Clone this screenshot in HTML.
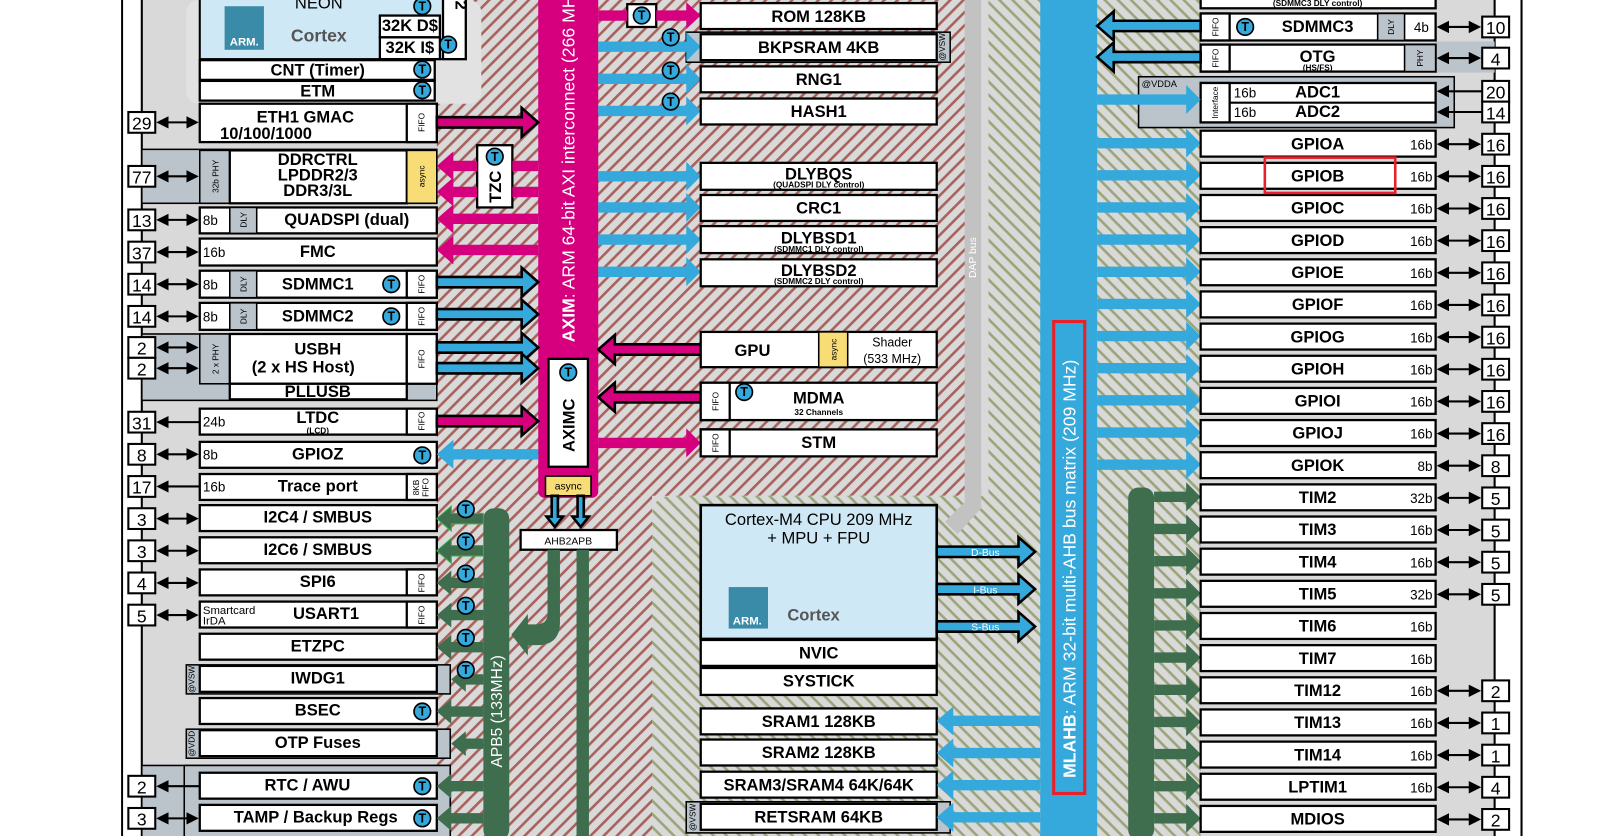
<!DOCTYPE html>
<html><head><meta charset="utf-8">
<style>
html,body{margin:0;padding:0;background:#fff;}
svg{display:block;}
text{font-family:"Liberation Sans",sans-serif;}
.b{fill:#fff;stroke:#000;stroke-width:2.2;}
.g{fill:#bcc4cb;stroke:#000;stroke-width:1.5;}
.t{font-weight:bold;font-size:16px;text-anchor:middle;}
.s{font-size:13px;}
.f{font-size:8px;text-anchor:middle;}
.pin{fill:#fff;stroke:#000;stroke-width:2;}
.pn{font-size:17px;text-anchor:middle;}
.pk{fill:#d6007f;stroke:#000;stroke-width:2.5;}
.bl{fill:#35a9dc;}
.blo{fill:#35a9dc;stroke:#000;stroke-width:2.5;}
.gr{fill:#3f6e4e;}
.tc{fill:#35a9dc;stroke:#000;stroke-width:1.6;}
.tt{font-weight:bold;font-size:12px;text-anchor:middle;}
.dl{stroke:#000;stroke-width:2;}
</style></head><body>
<svg width="1624" height="836" viewBox="0 0 1569 806" preserveAspectRatio="none" xmlns="http://www.w3.org/2000/svg">
<defs>
<pattern id="rh" width="9" height="9" patternUnits="userSpaceOnUse" patternTransform="rotate(-45)">
<rect width="9" height="9" fill="#d9d9d9"/><rect width="9" height="2.5" fill="#a8625c"/></pattern>
<pattern id="gh" width="9" height="9" patternUnits="userSpaceOnUse" patternTransform="rotate(45)">
<rect width="9" height="9" fill="#d9d9d9"/><rect width="9" height="2.5" fill="#9aa57a"/></pattern>
<marker id="ah" markerWidth="6" markerHeight="6" refX="5" refY="3" orient="auto" markerUnits="strokeWidth"><path d="M0,0 L6,3 L0,6z" fill="#000"/></marker>
<marker id="as" markerWidth="6" markerHeight="6" refX="1" refY="3" orient="auto" markerUnits="strokeWidth"><path d="M6,0 L0,3 L6,6z" fill="#000"/></marker>
</defs>
<rect width="1569" height="806" fill="#fff"/>
<rect x="118" y="-5" width="1352" height="820" fill="#d9d9d9" stroke="#000" stroke-width="2"/>
<rect x="119" y="0" width="18" height="806" fill="#fff"/>
<rect x="1444" y="0" width="25" height="806" fill="#fff"/>
<rect x="422" y="0" width="512" height="478" fill="url(#rh)"/>
<rect x="422" y="478" width="208" height="328" fill="url(#rh)"/>
<path d="M650,478 H1000 V806 H630 V498 Q630,478 650,478z" fill="url(#gh)"/>
<rect x="955" y="0" width="205" height="806" fill="url(#gh)"/>
<rect x="180" y="0" width="285" height="100" rx="12" fill="#e2e2e2"/>
<line x1="137" y1="0" x2="137" y2="806" class="dl"/>
<line x1="1444" y1="0" x2="1444" y2="806" class="dl"/>
<rect x="193" y="-5" width="257" height="62" fill="#cfe8f5" stroke="#000" stroke-width="2"/>
<rect x="428" y="-5" width="22" height="62" class="b"/>
<text x="440" y="5" class="t" transform="rotate(90 440 5)" font-size="13">2</text>
<text x="308" y="8" text-anchor="middle" font-size="16">NEON</text>
<rect x="217" y="6" width="38" height="42" fill="#3a8ba8"/><text x="236" y="44" fill="#fff" font-weight="bold" font-size="11" text-anchor="middle">ARM.</text>
<text x="308" y="40" text-anchor="middle" font-size="17" font-weight="bold" fill="#555">Cortex</text>
<rect x="367" y="15" width="58" height="21" class="b" stroke-width="1.5"/><text x="396" y="30" class="t" font-size="12">32K D$</text>
<rect x="367" y="36" width="58" height="21" class="b" stroke-width="1.5"/><text x="396" y="51" class="t" font-size="12">32K I$</text>
<rect x="193" y="58" width="227" height="19" class="b"/><text x="307" y="73" class="t" font-size="14">CNT (Timer)</text>
<rect x="193" y="78" width="227" height="19" class="b"/><text x="307" y="93" class="t" font-size="14">ETM</text>
<g><circle cx="408" cy="6" r="8" class="tc"/><text x="408" y="10" class="tt">T</text>
<circle cx="433" cy="43" r="8" class="tc"/><text x="433" y="47" class="tt">T</text>
<circle cx="408" cy="67" r="8" class="tc"/><text x="408" y="71" class="tt">T</text>
<circle cx="408" cy="87" r="8" class="tc"/><text x="408" y="91" class="tt">T</text></g>

<rect x="137" y="144" width="285" height="52" class="g"/>
<rect x="137" y="322" width="285" height="64" class="g"/>
<rect x="180" y="641" width="255" height="28" class="g"/>
<rect x="180" y="703" width="255" height="28" class="g"/>
<rect x="137" y="738" width="298" height="70" class="g"/>
<rect x="178" y="738" width="257" height="70" class="g"/>

<rect x="193" y="100" width="229" height="37" class="b"/><rect x="393" y="100" width="29" height="37" class="b"/>
<text x="295" y="118" class="t" font-size="17">ETH1 GMAC</text><text x="257" y="134" class="t" font-size="13">10/100/1000</text>
<text x="407" y="118" class="f" transform="rotate(-90 407 118)" dy="3">FIFO</text>
<rect x="193" y="145" width="29" height="51" class="g"/><text x="208" y="170" class="f" transform="rotate(-90 208 170)" dy="3">32b PHY</text>
<rect x="222" y="145" width="171" height="51" class="b"/>
<rect x="393" y="145" width="29" height="51" fill="#f8dc76" stroke="#000" stroke-width="1.5"/><text x="407" y="170" class="f" transform="rotate(-90 407 170)" dy="3">async</text>
<text x="307" y="159" class="t" font-size="13">DDRCTRL</text><text x="307" y="174" class="t" font-size="13">LPDDR2/3</text><text x="307" y="189" class="t" font-size="13">DDR3/3L</text>
<rect x="193" y="200" width="229" height="25" class="b"/><rect x="222" y="200" width="26" height="25" class="g"/>
<text x="196" y="217" class="s">8b</text><text x="235" y="212" class="f" transform="rotate(-90 235 212)" dy="3">DLY</text>
<text x="335" y="217" class="t">QUADSPI (dual)</text>
<rect x="193" y="230" width="229" height="26" class="b"/><text x="196" y="248" class="s">16b</text><text x="307" y="248" class="t">FMC</text>
<rect x="193" y="261" width="229" height="26" class="b"/><rect x="222" y="261" width="26" height="26" class="g"/><rect x="393" y="261" width="29" height="26" class="b"/>
<text x="196" y="279" class="s">8b</text><text x="235" y="274" class="f" transform="rotate(-90 235 274)" dy="3">DLY</text><text x="307" y="279" class="t">SDMMC1</text><text x="407" y="274" class="f" transform="rotate(-90 407 274)" dy="3">FIFO</text>
<circle cx="378" cy="274" r="8" class="tc"/><text x="378" y="278" class="tt">T</text>
<rect x="193" y="292" width="229" height="26" class="b"/><rect x="222" y="292" width="26" height="26" class="g"/><rect x="393" y="292" width="29" height="26" class="b"/>
<text x="196" y="310" class="s">8b</text><text x="235" y="305" class="f" transform="rotate(-90 235 305)" dy="3">DLY</text><text x="307" y="310" class="t">SDMMC2</text><text x="407" y="305" class="f" transform="rotate(-90 407 305)" dy="3">FIFO</text>
<circle cx="378" cy="305" r="8" class="tc"/><text x="378" y="309" class="tt">T</text>
<rect x="193" y="322" width="29" height="48" class="g"/><text x="208" y="346" class="f" transform="rotate(-90 208 346)" dy="3">2 x PHY</text>
<rect x="222" y="322" width="171" height="48" class="b"/><rect x="393" y="322" width="29" height="48" class="b"/>
<text x="407" y="346" class="f" transform="rotate(-90 407 346)" dy="3">FIFO</text>
<text x="307" y="342" class="t">USBH</text><text x="293" y="359" class="t">(2 x HS Host)</text>
<rect x="222" y="370" width="171" height="15" class="b"/><text x="307" y="383" class="t" font-size="13">PLLUSB</text>
<rect x="193" y="394" width="229" height="25" class="b"/><rect x="393" y="394" width="29" height="25" class="b"/>
<text x="196" y="411" class="s">24b</text><text x="307" y="408" class="t">LTDC</text><text x="307" y="418" class="f" font-weight="bold">(LCD)</text><text x="407" y="406" class="f" transform="rotate(-90 407 406)" dy="3">FIFO</text>
<rect x="193" y="426" width="229" height="25" class="b"/><text x="196" y="443" class="s">8b</text><text x="307" y="443" class="t">GPIOZ</text>
<circle cx="408" cy="439" r="8" class="tc"/><text x="408" y="443" class="tt">T</text>
<rect x="193" y="457" width="229" height="25" class="b"/><rect x="393" y="457" width="29" height="25" class="b"/>
<text x="196" y="474" class="s">16b</text><text x="307" y="474" class="t">Trace port</text>
<text x="403" y="470" class="f" font-size="6" transform="rotate(-90 403 470)" dy="2">8KB</text><text x="412" y="470" class="f" font-size="6" transform="rotate(-90 412 470)" dy="2">FIFO</text>
<rect x="193" y="487" width="229" height="25" class="b"/><text x="307" y="504" class="t">I2C4 / SMBUS</text>
<rect x="193" y="518" width="229" height="25" class="b"/><text x="307" y="535" class="t">I2C6 / SMBUS</text>
<rect x="193" y="549" width="229" height="25" class="b"/><rect x="393" y="549" width="29" height="25" class="b"/><text x="307" y="566" class="t">SPI6</text><text x="407" y="562" class="f" transform="rotate(-90 407 562)" dy="3">FIFO</text>
<rect x="193" y="580" width="229" height="25" class="b"/><rect x="393" y="580" width="29" height="25" class="b"/><text x="315" y="597" class="t">USART1</text><text x="407" y="593" class="f" transform="rotate(-90 407 593)" dy="3">FIFO</text>
<text x="196" y="592" font-size="11">Smartcard</text><text x="196" y="602" font-size="11">IrDA</text>
<rect x="193" y="611" width="229" height="25" class="b"/><text x="307" y="628" class="t">ETZPC</text>
<rect x="193" y="642" width="229" height="25" class="b"/><text x="307" y="659" class="t">IWDG1</text><text x="186" y="655" class="f" font-size="6" transform="rotate(-90 186 655)" dy="2">@VSW</text>
<rect x="193" y="673" width="229" height="25" class="b"/><text x="307" y="690" class="t">BSEC</text>
<circle cx="408" cy="686" r="8" class="tc"/><text x="408" y="690" class="tt">T</text>
<rect x="193" y="704" width="229" height="25" class="b"/><text x="307" y="721" class="t">OTP Fuses</text><text x="186" y="717" class="f" font-size="6" transform="rotate(-90 186 717)" dy="2">@VDD</text>
<rect x="193" y="745" width="229" height="25" class="b"/><text x="297" y="762" class="t">RTC / AWU</text>
<circle cx="408" cy="758" r="8" class="tc"/><text x="408" y="762" class="tt">T</text>
<rect x="193" y="776" width="229" height="25" class="b"/><text x="305" y="793" class="t">TAMP / Backup Regs</text>
<circle cx="408" cy="789" r="8" class="tc"/><text x="408" y="793" class="tt">T</text>

<g>
<rect x="124" y="108" width="26" height="20" class="pin"/><text x="137" y="125" class="pn">29</text>
<rect x="124" y="160" width="26" height="20" class="pin"/><text x="137" y="177" class="pn">77</text>
<rect x="124" y="202" width="26" height="20" class="pin"/><text x="137" y="219" class="pn">13</text>
<rect x="124" y="233" width="26" height="20" class="pin"/><text x="137" y="250" class="pn">37</text>
<rect x="124" y="264" width="26" height="20" class="pin"/><text x="137" y="281" class="pn">14</text>
<rect x="124" y="295" width="26" height="20" class="pin"/><text x="137" y="312" class="pn">14</text>
<rect x="124" y="325" width="26" height="20" class="pin"/><text x="137" y="342" class="pn">2</text>
<rect x="124" y="345" width="26" height="20" class="pin"/><text x="137" y="362" class="pn">2</text>
<rect x="124" y="397" width="26" height="20" class="pin"/><text x="137" y="414" class="pn">31</text>
<rect x="124" y="428" width="26" height="20" class="pin"/><text x="137" y="445" class="pn">8</text>
<rect x="124" y="459" width="26" height="20" class="pin"/><text x="137" y="476" class="pn">17</text>
<rect x="124" y="490" width="26" height="20" class="pin"/><text x="137" y="507" class="pn">3</text>
<rect x="124" y="521" width="26" height="20" class="pin"/><text x="137" y="538" class="pn">3</text>
<rect x="124" y="552" width="26" height="20" class="pin"/><text x="137" y="569" class="pn">4</text>
<rect x="124" y="583" width="26" height="20" class="pin"/><text x="137" y="600" class="pn">5</text>
<rect x="124" y="748" width="26" height="20" class="pin"/><text x="137" y="765" class="pn">2</text>
<rect x="124" y="779" width="26" height="20" class="pin"/><text x="137" y="796" class="pn">3</text>
</g>
<g stroke="#000" stroke-width="2" marker-end="url(#ah)" marker-start="url(#as)">
<line x1="153" y1="118" x2="190" y2="118"/><line x1="153" y1="170" x2="190" y2="170"/><line x1="153" y1="212" x2="190" y2="212"/>
<line x1="153" y1="243" x2="190" y2="243"/><line x1="153" y1="274" x2="190" y2="274"/><line x1="153" y1="305" x2="190" y2="305"/>
<line x1="153" y1="335" x2="190" y2="335"/><line x1="153" y1="355" x2="190" y2="355"/><line x1="153" y1="438" x2="190" y2="438"/>
<line x1="153" y1="500" x2="190" y2="500"/><line x1="153" y1="531" x2="190" y2="531"/><line x1="153" y1="562" x2="190" y2="562"/>
<line x1="153" y1="593" x2="190" y2="593"/><line x1="153" y1="789" x2="190" y2="789"/>
</g>
<g stroke="#000" stroke-width="2" marker-start="url(#as)">
<line x1="153" y1="407" x2="193" y2="407"/><line x1="153" y1="469" x2="193" y2="469"/><line x1="153" y1="758" x2="193" y2="758"/>
</g>

<rect x="520" y="-5" width="58" height="485" rx="6" fill="#d6007f"/>
<text x="549" y="330" fill="#fff" font-size="17" transform="rotate(-90 549 330)" dy="6"><tspan font-weight="bold">AXIM</tspan>: ARM 64-bit AXI interconnect (266 MHz)</text>
<rect x="530" y="346" width="38" height="104" class="b"/>
<text x="549" y="410" class="t" font-size="17" transform="rotate(-90 549 410)" dy="6">AXIMC</text>
<circle cx="549" cy="359" r="8" class="tc"/><text x="549" y="363" class="tt">T</text>
<rect x="527" y="459" width="44" height="19" fill="#f8dc76" stroke="#000" stroke-width="1.5"/><text x="549" y="472" text-anchor="middle" font-size="10">async</text>
<rect x="503" y="511" width="93" height="19" class="b" stroke-width="1.5"/><text x="549" y="525" text-anchor="middle" font-size="10">AHB2APB</text>
<g class="blo" stroke-width="2"><path d="M533,478 h6 v20 h5 l-8,10 l-8,-10 h5z"/><path d="M558,478 h6 v20 h5 l-8,10 l-8,-10 h5z"/></g>
<rect x="461" y="140" width="34" height="60" class="b"/><text x="478" y="180" class="t" font-size="16" transform="rotate(-90 478 180)" dy="6">TZC</text>
<circle cx="478" cy="151" r="8" class="tc"/><text x="478" y="155" class="tt">T</text>

<g class="pk">
<path d="M422,113 H504 V104 L520,118 L504,132 V123 H422z"/>
<path d="M422,401 H504 V392 L520,406 L504,420 V411 H422z"/>
</g>
<g fill="#d6007f">
<path d="M461,155 H438 V146 L422,160 L438,174 V165 H461z M495,155 H520 V165 H495z"/>
<path d="M461,180 H438 V171 L422,185 L438,199 V190 H461z M495,180 H520 V190 H495z"/>
<path d="M520,206 H438 V197 L422,211 L438,225 V216 H520z"/>
<path d="M520,236 H438 V227 L422,241 L438,255 V246 H520z"/>
</g>
<g class="blo">
<path d="M422,267 H504 V258 L520,272 L504,286 V277 H422z"/>
<path d="M422,298 H504 V289 L520,303 L504,317 V308 H422z"/>
<path d="M422,330 H504 V321 L520,335 L504,349 V340 H422z"/>
<path d="M422,350 H504 V341 L520,355 L504,369 V360 H422z"/>
</g>
<path class="bl" d="M520,433 H438 V424 L422,438 L438,452 V443 H520z"/>

<rect x="606" y="4" width="28" height="22" class="b"/><circle cx="620" cy="15" r="8" class="tc"/><text x="620" y="19" class="tt">T</text>
<path fill="#d6007f" d="M578,10 H606 V20 H578z M634,10 H663 V2 L677,15 L663,28 V20 H634z"/>
<rect x="663" y="31" width="255" height="29" class="g"/>
<g class="bl">
<path d="M578,40 H663 V31 L677,45 L663,59 V50 H578z"/>
<path d="M578,71 H663 V62 L677,76 L663,90 V81 H578z"/>
<path d="M578,102 H663 V93 L677,107 L663,121 V112 H578z"/>
<path d="M578,165 H663 V156 L677,170 L663,184 V175 H578z"/>
<path d="M578,195 H663 V186 L677,200 L663,214 V205 H578z"/>
<path d="M578,226 H663 V217 L677,231 L663,245 V236 H578z"/>
<path d="M578,257 H663 V248 L677,262 L663,276 V267 H578z"/>
</g>
<g><circle cx="648" cy="36" r="8" class="tc"/><text x="648" y="40" class="tt">T</text>
<circle cx="648" cy="68" r="8" class="tc"/><text x="648" y="72" class="tt">T</text>
<circle cx="648" cy="98" r="8" class="tc"/><text x="648" y="102" class="tt">T</text></g>
<g class="pk">
<path d="M677,332 H594 V323 L578,337 L594,351 V342 H677z"/>
<path d="M677,378 H594 V369 L578,383 L594,397 V388 H677z"/>
</g>
<path fill="#d6007f" d="M578,422 H663 V413 L677,427 L663,441 V432 H578z"/>

<rect x="677" y="3" width="228" height="25" class="b"/><text x="791" y="21" class="t">ROM 128KB</text>
<rect x="677" y="33" width="228" height="25" class="b"/><text x="791" y="51" class="t">BKPSRAM 4KB</text><text x="911" y="45" class="f" font-size="6" transform="rotate(-90 911 45)" dy="2">@VSW</text>
<rect x="677" y="64" width="228" height="25" class="b"/><text x="791" y="82" class="t">RNG1</text>
<rect x="677" y="95" width="228" height="25" class="b"/><text x="791" y="113" class="t">HASH1</text>
<rect x="677" y="157" width="228" height="26" class="b"/><text x="791" y="173" class="t" font-size="14">DLYBQS</text><text x="791" y="181" class="f" font-weight="bold">(QUADSPI DLY control)</text>
<rect x="677" y="188" width="228" height="25" class="b"/><text x="791" y="206" class="t">CRC1</text>
<rect x="677" y="218" width="228" height="26" class="b"/><text x="791" y="235" class="t">DLYBSD1</text><text x="791" y="243" class="f" font-weight="bold">(SDMMC1 DLY control)</text>
<rect x="677" y="250" width="228" height="26" class="b"/><text x="791" y="266" class="t">DLYBSD2</text><text x="791" y="274" class="f" font-weight="bold">(SDMMC2 DLY control)</text>
<rect x="677" y="320" width="228" height="34" class="b"/><rect x="791" y="320" width="28" height="34" fill="#f8dc76" stroke="#000" stroke-width="1.5"/>
<text x="727" y="343" class="t" font-size="17">GPU</text><text x="805" y="337" class="f" transform="rotate(-90 805 337)" dy="3">async</text>
<text x="862" y="334" text-anchor="middle" font-size="12">Shader</text><text x="862" y="350" text-anchor="middle" font-size="12">(533 MHz)</text>
<rect x="677" y="369" width="228" height="36" class="b"/><rect x="677" y="369" width="28" height="36" class="b"/><text x="691" y="387" class="f" transform="rotate(-90 691 387)" dy="3">FIFO</text>
<text x="791" y="389" class="t">MDMA</text><text x="791" y="400" text-anchor="middle" font-size="8" font-weight="bold">32 Channels</text>
<circle cx="719" cy="378" r="8" class="tc"/><text x="719" y="382" class="tt">T</text>
<rect x="677" y="414" width="228" height="26" class="b"/><rect x="677" y="414" width="28" height="26" class="b"/><text x="691" y="427" class="f" transform="rotate(-90 691 427)" dy="3">FIFO</text><text x="791" y="432" class="t">STM</text>

<path d="M932,0 H948 V490 L925,515 L913,503 L932,484z" fill="#c2c2c2"/>
<text x="940" y="268" fill="#fff" font-size="10" transform="rotate(-90 940 268)" dy="3">DAP bus</text>

<rect x="677" y="487" width="228" height="129" fill="#cfe8f5" stroke="#000" stroke-width="2.5"/>
<text x="791" y="506" text-anchor="middle" font-size="16">Cortex-M4 CPU 209 MHz</text>
<text x="791" y="524" text-anchor="middle" font-size="16">+ MPU + FPU</text>
<rect x="704" y="566" width="38" height="40" fill="#3a8ba8"/><text x="722" y="602" fill="#fff" font-weight="bold" font-size="11" text-anchor="middle">ARM.</text>
<text x="786" y="598" text-anchor="middle" font-size="16" font-weight="bold" fill="#555">Cortex</text>
<rect x="677" y="617" width="228" height="25" class="b"/><text x="791" y="635" class="t">NVIC</text>
<rect x="677" y="644" width="228" height="26" class="b"/><text x="791" y="662" class="t">SYSTICK</text>
<g class="blo" stroke-width="2.5">
<path d="M905,527 H984 V518 L1000,532 L984,546 V537 H905z"/>
<path d="M905,563 H984 V554 L1000,568 L984,582 V573 H905z"/>
<path d="M905,599 H984 V590 L1000,604 L984,618 V609 H905z"/>
</g>
<text x="952" y="536" fill="#fff" font-size="10" text-anchor="middle">D-Bus</text>
<text x="952" y="572" fill="#fff" font-size="10" text-anchor="middle">I-Bus</text>
<text x="952" y="608" fill="#fff" font-size="10" text-anchor="middle">S-Bus</text>
<rect x="663" y="773" width="255" height="30" class="g"/>
<rect x="677" y="683" width="228" height="25" class="b"/><text x="791" y="701" class="t">SRAM1 128KB</text>
<rect x="677" y="713" width="228" height="25" class="b"/><text x="791" y="731" class="t">SRAM2 128KB</text>
<rect x="677" y="744" width="228" height="25" class="b"/><text x="791" y="762" class="t">SRAM3/SRAM4 64K/64K</text>
<rect x="677" y="775" width="228" height="25" class="b"/><text x="791" y="793" class="t">RETSRAM 64KB</text><text x="670" y="788" class="f" font-size="6" transform="rotate(-90 670 788)" dy="2">@VSW</text>
<g class="bl">
<path d="M1005,690 H921 V681 L905,695 L921,709 V700 H1005z"/>
<path d="M1005,721 H921 V712 L905,726 L921,740 V731 H1005z"/>
<path d="M1005,752 H921 V743 L905,757 L921,771 V762 H1005z"/>
<path d="M1005,783 H921 V774 L905,788 L921,802 V793 H1005z"/>
</g>

<rect x="467" y="490" width="25" height="320" rx="10" fill="#3f6e4e"/>
<text x="480" y="740" fill="#fff" font-size="15" transform="rotate(-90 480 740)" dy="5">APB5 (133MHz)</text>
<g fill="#3f6e4e">
<path d="M467,495 H436 V488 L422,500 L436,512 V505 H467z" stroke="#2bb04a" stroke-width="1"/>
<path d="M467,526 H436 V519 L422,531 L436,543 V536 H467z" stroke="#2bb04a" stroke-width="1"/>
<path d="M467,557 H436 V550 L422,562 L436,574 V567 H467z"/>
<path d="M467,588 H436 V581 L422,593 L436,605 V598 H467z"/>
<path d="M467,619 H436 V612 L422,624 L436,636 V629 H467z"/>
<path d="M467,650 H450 V643 L436,655 L450,667 V660 H467z"/>
<path d="M467,681 H436 V674 L422,686 L436,698 V691 H467z"/>
<path d="M467,712 H450 V705 L436,717 L450,729 V722 H467z"/>
<path d="M467,753 H436 V746 L422,758 L436,770 V763 H467z"/>
<path d="M467,784 H436 V777 L422,789 L436,801 V794 H467z"/>
<path d="M529,530 H541 V600 Q541,622 519,622 H510 V632 L494,612 L510,592 V602 H517 Q529,602 529,592z"/>
<rect x="557" y="530" width="12" height="280"/>
</g>
<g>
<circle cx="450" cy="491" r="8" class="tc"/><text x="450" y="495" class="tt">T</text>
<circle cx="450" cy="522" r="8" class="tc"/><text x="450" y="526" class="tt">T</text>
<circle cx="450" cy="553" r="8" class="tc"/><text x="450" y="557" class="tt">T</text>
<circle cx="450" cy="584" r="8" class="tc"/><text x="450" y="588" class="tt">T</text>
<circle cx="450" cy="615" r="8" class="tc"/><text x="450" y="619" class="tt">T</text>
<circle cx="450" cy="646" r="8" class="tc"/><text x="450" y="650" class="tt">T</text>
</g>

<rect x="1005" y="0" width="55" height="806" fill="#35a9dc"/>
<text x="1033" y="750" fill="#fff" font-size="17" transform="rotate(-90 1033 750)" dy="6"><tspan font-weight="bold">MLAHB</tspan>: ARM 32-bit multi-AHB bus matrix (209 MHz)</text>
<rect x="1018" y="310" width="30" height="455" fill="none" stroke="#e8202a" stroke-width="3"/>

<rect x="1387" y="40" width="57" height="30" fill="#bcc4cb"/>
<rect x="1100" y="74" width="305" height="49" class="g"/>
<text x="1103" y="84" font-size="9">@VDDA</text>
<rect x="1160" y="-8" width="227" height="16" class="b"/><text x="1273" y="6" class="f" font-weight="bold">(SDMMC3 DLY control)</text>
<rect x="1160" y="13" width="227" height="26" class="b"/><rect x="1160" y="13" width="28" height="26" class="b"/><rect x="1331" y="13" width="26" height="26" class="g"/>
<text x="1174" y="26" class="f" transform="rotate(-90 1174 26)" dy="3">FIFO</text><text x="1344" y="26" class="f" transform="rotate(-90 1344 26)" dy="3">DLY</text>
<circle cx="1203" cy="26" r="8" class="tc"/><text x="1203" y="30" class="tt">T</text>
<text x="1273" y="31" class="t">SDMMC3</text><text x="1366" y="31" class="s">4b</text>
<rect x="1160" y="43" width="227" height="26" class="b"/><rect x="1160" y="43" width="28" height="26" class="b"/><rect x="1357" y="43" width="30" height="26" class="g"/>
<text x="1174" y="56" class="f" transform="rotate(-90 1174 56)" dy="3">FIFO</text><text x="1372" y="56" class="f" transform="rotate(-90 1372 56)" dy="3">PHY</text>
<text x="1273" y="60" class="t">OTG</text><text x="1273" y="68" class="f" font-weight="bold" font-size="7">(HS/FS)</text>
<rect x="1160" y="80" width="227" height="38" class="b"/><rect x="1160" y="80" width="28" height="38" class="b"/>
<line x1="1188" y1="99" x2="1387" y2="99" stroke="#000" stroke-width="2"/>
<text x="1174" y="99" class="f" transform="rotate(-90 1174 99)" dy="3">Interface</text>
<text x="1192" y="94" class="s">16b</text><text x="1192" y="113" class="s">16b</text>
<text x="1273" y="94" class="t">ADC1</text><text x="1273" y="113" class="t">ADC2</text>
<g class="blo" stroke-width="2.5">
<path d="M1160,20 H1076 V11 L1060,25 L1076,39 V30 H1160z"/>
<path d="M1160,50 H1076 V41 L1060,55 L1076,69 V60 H1160z"/>
</g>
<g class="bl">
<path d="M1060,91 H1146 V82 L1160,96 L1146,110 V101 H1060z"/>
<path d="M1060,133 H1146 V124 L1160,138 L1146,152 V143 H1060z"/>
<path d="M1060,164 H1146 V155 L1160,169 L1146,183 V174 H1060z"/>
<path d="M1060,195 H1146 V186 L1160,200 L1146,214 V205 H1060z"/>
<path d="M1060,226 H1146 V217 L1160,231 L1146,245 V236 H1060z"/>
<path d="M1060,257 H1146 V248 L1160,262 L1146,276 V267 H1060z"/>
<path d="M1060,288 H1146 V279 L1160,293 L1146,307 V298 H1060z"/>
<path d="M1060,319 H1146 V310 L1160,324 L1146,338 V329 H1060z"/>
<path d="M1060,350 H1146 V341 L1160,355 L1146,369 V360 H1060z"/>
<path d="M1060,381 H1146 V372 L1160,386 L1146,400 V391 H1060z"/>
<path d="M1060,412 H1146 V403 L1160,417 L1146,431 V422 H1060z"/>
<path d="M1060,443 H1146 V434 L1160,448 L1146,462 V453 H1060z"/>
</g>
<rect x="1090" y="470" width="25" height="340" rx="10" fill="#3f6e4e"/>
<g fill="#3f6e4e">
<path d="M1115,474 H1146 V465 L1160,479 L1146,493 V484 H1115z"/>
<path d="M1115,505 H1146 V496 L1160,510 L1146,524 V515 H1115z"/>
<path d="M1115,536 H1146 V527 L1160,541 L1146,555 V546 H1115z"/>
<path d="M1115,567 H1146 V558 L1160,572 L1146,586 V577 H1115z"/>
<path d="M1115,598 H1146 V589 L1160,603 L1146,617 V608 H1115z"/>
<path d="M1115,629 H1146 V620 L1160,634 L1146,648 V639 H1115z"/>
<path d="M1115,660 H1146 V651 L1160,665 L1146,679 V670 H1115z"/>
<path d="M1115,691 H1146 V682 L1160,696 L1146,710 V701 H1115z"/>
<path d="M1115,722 H1146 V713 L1160,727 L1146,741 V732 H1115z"/>
<path d="M1115,753 H1146 V744 L1160,758 L1146,772 V763 H1115z"/>
<path d="M1115,784 H1146 V775 L1160,789 L1146,803 V794 H1115z"/>
</g>
<g>
<rect x="1160" y="126" width="227" height="25" class="b"/><text x="1273" y="144" class="t">GPIOA</text><text x="1384" y="144" class="s" text-anchor="end">16b</text>
<rect x="1160" y="157" width="227" height="25" class="b"/><text x="1273" y="175" class="t">GPIOB</text><text x="1384" y="175" class="s" text-anchor="end">16b</text>
<rect x="1160" y="188" width="227" height="25" class="b"/><text x="1273" y="206" class="t">GPIOC</text><text x="1384" y="206" class="s" text-anchor="end">16b</text>
<rect x="1160" y="219" width="227" height="25" class="b"/><text x="1273" y="237" class="t">GPIOD</text><text x="1384" y="237" class="s" text-anchor="end">16b</text>
<rect x="1160" y="250" width="227" height="25" class="b"/><text x="1273" y="268" class="t">GPIOE</text><text x="1384" y="268" class="s" text-anchor="end">16b</text>
<rect x="1160" y="281" width="227" height="25" class="b"/><text x="1273" y="299" class="t">GPIOF</text><text x="1384" y="299" class="s" text-anchor="end">16b</text>
<rect x="1160" y="312" width="227" height="25" class="b"/><text x="1273" y="330" class="t">GPIOG</text><text x="1384" y="330" class="s" text-anchor="end">16b</text>
<rect x="1160" y="343" width="227" height="25" class="b"/><text x="1273" y="361" class="t">GPIOH</text><text x="1384" y="361" class="s" text-anchor="end">16b</text>
<rect x="1160" y="374" width="227" height="25" class="b"/><text x="1273" y="392" class="t">GPIOI</text><text x="1384" y="392" class="s" text-anchor="end">16b</text>
<rect x="1160" y="405" width="227" height="25" class="b"/><text x="1273" y="423" class="t">GPIOJ</text><text x="1384" y="423" class="s" text-anchor="end">16b</text>
<rect x="1160" y="436" width="227" height="25" class="b"/><text x="1273" y="454" class="t">GPIOK</text><text x="1384" y="454" class="s" text-anchor="end">8b</text>
<rect x="1160" y="467" width="227" height="25" class="b"/><text x="1273" y="485" class="t">TIM2</text><text x="1384" y="485" class="s" text-anchor="end">32b</text>
<rect x="1160" y="498" width="227" height="25" class="b"/><text x="1273" y="516" class="t">TIM3</text><text x="1384" y="516" class="s" text-anchor="end">16b</text>
<rect x="1160" y="529" width="227" height="25" class="b"/><text x="1273" y="547" class="t">TIM4</text><text x="1384" y="547" class="s" text-anchor="end">16b</text>
<rect x="1160" y="560" width="227" height="25" class="b"/><text x="1273" y="578" class="t">TIM5</text><text x="1384" y="578" class="s" text-anchor="end">32b</text>
<rect x="1160" y="591" width="227" height="25" class="b"/><text x="1273" y="609" class="t">TIM6</text><text x="1384" y="609" class="s" text-anchor="end">16b</text>
<rect x="1160" y="622" width="227" height="25" class="b"/><text x="1273" y="640" class="t">TIM7</text><text x="1384" y="640" class="s" text-anchor="end">16b</text>
<rect x="1160" y="653" width="227" height="25" class="b"/><text x="1273" y="671" class="t">TIM12</text><text x="1384" y="671" class="s" text-anchor="end">16b</text>
<rect x="1160" y="684" width="227" height="25" class="b"/><text x="1273" y="702" class="t">TIM13</text><text x="1384" y="702" class="s" text-anchor="end">16b</text>
<rect x="1160" y="715" width="227" height="25" class="b"/><text x="1273" y="733" class="t">TIM14</text><text x="1384" y="733" class="s" text-anchor="end">16b</text>
<rect x="1160" y="746" width="227" height="25" class="b"/><text x="1273" y="764" class="t">LPTIM1</text><text x="1384" y="764" class="s" text-anchor="end">16b</text>
<rect x="1160" y="777" width="227" height="25" class="b"/><text x="1273" y="795" class="t">MDIOS</text>
</g>
<rect x="1222" y="152" width="126" height="34" fill="none" stroke="#e8202a" stroke-width="2.5"/>
<g>
<rect x="1432" y="16" width="26" height="20" class="pin"/><text x="1445" y="33" class="pn">10</text>
<rect x="1432" y="46" width="26" height="20" class="pin"/><text x="1445" y="63" class="pn">4</text>
<rect x="1432" y="78" width="26" height="20" class="pin"/><text x="1445" y="95" class="pn">20</text>
<rect x="1432" y="98" width="26" height="20" class="pin"/><text x="1445" y="115" class="pn">14</text>
<rect x="1432" y="129" width="26" height="20" class="pin"/><text x="1445" y="146" class="pn">16</text>
<rect x="1432" y="160" width="26" height="20" class="pin"/><text x="1445" y="177" class="pn">16</text>
<rect x="1432" y="191" width="26" height="20" class="pin"/><text x="1445" y="208" class="pn">16</text>
<rect x="1432" y="222" width="26" height="20" class="pin"/><text x="1445" y="239" class="pn">16</text>
<rect x="1432" y="253" width="26" height="20" class="pin"/><text x="1445" y="270" class="pn">16</text>
<rect x="1432" y="284" width="26" height="20" class="pin"/><text x="1445" y="301" class="pn">16</text>
<rect x="1432" y="315" width="26" height="20" class="pin"/><text x="1445" y="332" class="pn">16</text>
<rect x="1432" y="346" width="26" height="20" class="pin"/><text x="1445" y="363" class="pn">16</text>
<rect x="1432" y="377" width="26" height="20" class="pin"/><text x="1445" y="394" class="pn">16</text>
<rect x="1432" y="408" width="26" height="20" class="pin"/><text x="1445" y="425" class="pn">16</text>
<rect x="1432" y="439" width="26" height="20" class="pin"/><text x="1445" y="456" class="pn">8</text>
<rect x="1432" y="470" width="26" height="20" class="pin"/><text x="1445" y="487" class="pn">5</text>
<rect x="1432" y="501" width="26" height="20" class="pin"/><text x="1445" y="518" class="pn">5</text>
<rect x="1432" y="532" width="26" height="20" class="pin"/><text x="1445" y="549" class="pn">5</text>
<rect x="1432" y="563" width="26" height="20" class="pin"/><text x="1445" y="580" class="pn">5</text>
<rect x="1432" y="656" width="26" height="20" class="pin"/><text x="1445" y="673" class="pn">2</text>
<rect x="1432" y="687" width="26" height="20" class="pin"/><text x="1445" y="704" class="pn">1</text>
<rect x="1432" y="718" width="26" height="20" class="pin"/><text x="1445" y="735" class="pn">1</text>
<rect x="1432" y="749" width="26" height="20" class="pin"/><text x="1445" y="766" class="pn">4</text>
<rect x="1432" y="780" width="26" height="20" class="pin"/><text x="1445" y="797" class="pn">2</text>
</g>
<g stroke="#000" stroke-width="2" marker-end="url(#ah)" marker-start="url(#as)">
<line x1="1390" y1="26" x2="1429" y2="26"/><line x1="1390" y1="56" x2="1429" y2="56"/>
<line x1="1390" y1="139" x2="1429" y2="139"/><line x1="1390" y1="170" x2="1429" y2="170"/><line x1="1390" y1="201" x2="1429" y2="201"/>
<line x1="1390" y1="232" x2="1429" y2="232"/><line x1="1390" y1="263" x2="1429" y2="263"/><line x1="1390" y1="294" x2="1429" y2="294"/>
<line x1="1390" y1="325" x2="1429" y2="325"/><line x1="1390" y1="356" x2="1429" y2="356"/><line x1="1390" y1="387" x2="1429" y2="387"/>
<line x1="1390" y1="418" x2="1429" y2="418"/><line x1="1390" y1="449" x2="1429" y2="449"/><line x1="1390" y1="480" x2="1429" y2="480"/>
<line x1="1390" y1="511" x2="1429" y2="511"/><line x1="1390" y1="542" x2="1429" y2="542"/><line x1="1390" y1="573" x2="1429" y2="573"/>
<line x1="1390" y1="666" x2="1429" y2="666"/><line x1="1390" y1="697" x2="1429" y2="697"/><line x1="1390" y1="728" x2="1429" y2="728"/>
<line x1="1390" y1="759" x2="1429" y2="759"/><line x1="1390" y1="790" x2="1429" y2="790"/>
</g>
<g stroke="#000" stroke-width="2" marker-end="url(#ah)">
<line x1="1432" y1="88" x2="1390" y2="88"/><line x1="1432" y1="108" x2="1390" y2="108"/>
</g>
</svg>
</body></html>
